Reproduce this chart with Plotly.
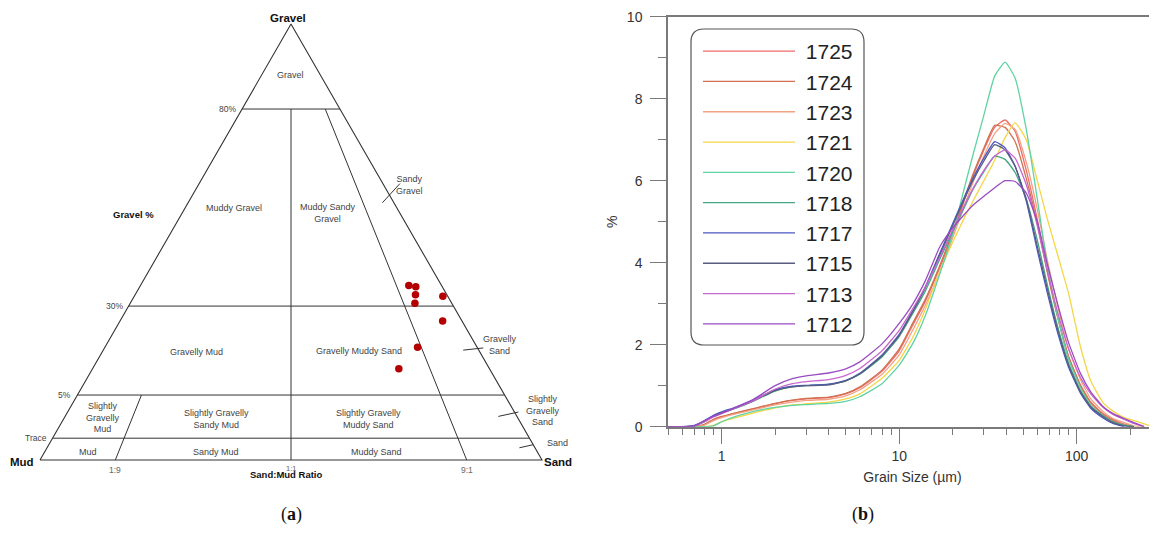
import numpy as np
import plotly.graph_objects as go

# ---------------- Panel (a): Folk gravel-sand-mud ternary ----------------
sample_gravel = [35.2, 34.9, 32.9, 30.7, 32.5, 25.8, 18.4, 12.4]   # gravel %
sample_sand = [60.1, 61.3, 62.6, 64.0, 66.8, 71.4, 72.5, 71.0]     # sand %
# mud % = 100 - gravel - sand

# Folk (1954) class boundaries as drawn on the (non-linear) Gradistat triangle
gravel_pct_knots = [0.0, 0.01, 5.0, 30.0, 80.0, 100.0]
gravel_h_knots = [0.0, 0.05, 0.149, 0.353, 0.805, 1.0]
sandfrac_knots = [0.0, 0.1, 0.5, 0.9, 1.0]
sandfrac_pos = [0.0, 0.15, 0.5, 0.85, 1.0]
gravel_lines = [80.0, 30.0, 5.0, 0.01]
gravel_line_labels = ["80%", "30%", "5%", "Trace"]
ratio_labels = ["1:9", "1:1", "9:1"]
ratio_fracs = [0.1, 0.5, 0.9]

# ---------------- Panel (b): grain size distributions ----------------
grain_um = [0.5, 0.6, 0.7, 0.8, 0.9, 1.0, 1.2, 1.5, 2.0, 2.5, 3.0, 4.0, 5.0, 6.0, 8.0,
            10, 12, 14, 17, 20, 23, 26, 30, 34.5, 39.5, 45, 52, 60, 68, 78, 90,
            105, 120, 140, 160, 185, 210, 240, 270]
N = None
s1725 = [0, 0, 0, 0.05, 0.17, 0.24, 0.33, 0.43, 0.56, 0.64, 0.68, 0.71, 0.80, 0.95, 1.35,
         1.85, 2.50, 3.05, 3.90, 4.70, 5.45, 6.10, 6.75, 7.30, 7.48, 7.20, 6.25, 5.05, 3.85, 2.70, 1.72,
         1.02, 0.60, 0.33, 0.18, 0.06, 0, N, N]
s1724 = [0, 0, 0, 0.06, 0.18, 0.25, 0.34, 0.44, 0.57, 0.65, 0.69, 0.72, 0.81, 0.97, 1.38,
         1.90, 2.55, 3.10, 3.95, 4.75, 5.50, 6.15, 6.80, 7.35, 7.30, 6.95, 6.05, 4.95, 3.80, 2.68, 1.70,
         1.00, 0.58, 0.30, 0.15, 0.04, 0, N, N]
s1723 = [0, 0, 0, 0.04, 0.15, 0.22, 0.31, 0.41, 0.53, 0.60, 0.64, 0.67, 0.75, 0.90, 1.28,
         1.75, 2.38, 2.95, 3.80, 4.60, 5.32, 5.95, 6.60, 7.15, 7.40, 7.25, 6.45, 5.30, 4.10, 2.95, 1.90,
         1.15, 0.68, 0.38, 0.20, 0.10, 0.02, 0, N]
s1721 = [0, 0, 0, 0, 0.03, 0.12, 0.22, 0.33, 0.46, 0.53, 0.56, 0.60, 0.68, 0.80, 1.18,
         1.62, 2.20, 2.85, 3.80, 4.50, 5.05, 5.50, 6.00, 6.50, 7.05, 7.41, 7.00, 6.00, 5.10, 4.20, 3.25,
         1.95, 1.12, 0.60, 0.38, 0.22, 0.15, 0.07, 0]
s1720 = [0, 0, 0, 0, 0.02, 0.12, 0.25, 0.37, 0.47, 0.52, 0.54, 0.57, 0.62, 0.73, 1.05,
         1.50, 2.05, 2.70, 3.75, 4.70, 5.73, 6.62, 7.60, 8.55, 8.89, 8.50, 7.25, 5.55, 4.00, 2.70, 1.65,
         0.95, 0.52, 0.28, 0.12, 0.04, 0, N, N]
s1718 = [0, 0, 0.02, 0.12, 0.25, 0.33, 0.45, 0.62, 0.87, 0.97, 1.00, 1.03, 1.12, 1.28, 1.70,
         2.20, 2.78, 3.30, 4.10, 4.75, 5.30, 5.78, 6.22, 6.60, 6.52, 6.20, 5.55, 4.55, 3.50, 2.45, 1.55,
         0.88, 0.50, 0.27, 0.12, 0.03, 0, N, N]
s1717 = [0, 0, 0.03, 0.15, 0.28, 0.36, 0.48, 0.65, 0.90, 0.99, 1.01, 1.04, 1.13, 1.30, 1.75,
         2.25, 2.85, 3.40, 4.25, 4.95, 5.55, 6.05, 6.55, 6.95, 6.80, 6.35, 5.50, 4.30, 3.30, 2.30, 1.45,
         0.82, 0.45, 0.22, 0.08, 0, N, N, N]
s1715 = [0, 0, 0.02, 0.13, 0.26, 0.34, 0.46, 0.63, 0.88, 0.97, 1.00, 1.02, 1.12, 1.29, 1.73,
         2.23, 2.83, 3.38, 4.20, 4.90, 5.50, 6.00, 6.48, 6.88, 6.75, 6.35, 5.55, 4.40, 3.40, 2.38, 1.50,
         0.85, 0.48, 0.25, 0.10, 0.02, 0, N, N]
s1713 = [0, 0, 0.01, 0.12, 0.24, 0.32, 0.46, 0.63, 0.92, 1.05, 1.10, 1.15, 1.25, 1.42, 1.85,
         2.35, 2.90, 3.40, 4.15, 4.80, 5.35, 5.80, 6.25, 6.60, 6.75, 6.55, 5.90, 4.90, 3.85, 2.80, 1.90,
         1.20, 0.80, 0.48, 0.30, 0.18, 0.08, 0, N]
s1712 = [0, 0, 0.02, 0.15, 0.26, 0.33, 0.47, 0.66, 1.00, 1.17, 1.24, 1.31, 1.41, 1.58, 2.02,
         2.52, 3.01, 3.55, 4.40, 4.85, 5.15, 5.40, 5.62, 5.83, 6.00, 5.98, 5.70, 5.00, 4.00, 3.00, 2.05,
         1.30, 0.85, 0.50, 0.32, 0.20, 0.10, 0, N]

sample_names = ["1725", "1724", "1723", "1721", "1720", "1718", "1717", "1715", "1713", "1712"]
sample_series = [s1725, s1724, s1723, s1721, s1720, s1718, s1717, s1715, s1713, s1712]
sample_colors = ["#ee6b6b", "#d0714f", "#f2a283", "#f5d548", "#5fd3a2",
                 "#46a886", "#4d57c4", "#585c80", "#c767cf", "#9a4cc2"]

x_major = [1, 10, 100]
x_minor = [0.5, 0.6, 0.7, 0.8, 0.9, 2, 3, 4, 5, 6, 7, 8, 9,
           20, 30, 40, 50, 60, 70, 80, 90, 200]

# The page body has an 8px margin: size the figure so it fills the 1157x537 window
OFF = 8
W, H = 1157 - OFF, 537 - OFF
FONT = "Liberation Sans, Arial, sans-serif"
LINE = "#333333"


def px(p):          # window x pixel -> paper fraction
    return (p - OFF) / W


def py(p):          # window y pixel -> paper fraction
    return 1 - (p - OFF) / H


fig = go.Figure()


def h_of(g):
    return float(np.interp(g, gravel_pct_knots, gravel_h_knots))


def r_of(f):
    return float(np.interp(f, sandfrac_knots, sandfrac_pos))


def to_xy(h, r):
    return r * (1 - h) + 0.5 * h, h


# Triangle outline and class boundaries
fig.add_trace(go.Scatter(x=[0, 1, 0.5, 0], y=[0, 0, 1, 0], mode="lines",
                         line=dict(color=LINE, width=1.1), showlegend=False, hoverinfo="skip"))
for g in gravel_lines:
    h = h_of(g)
    fig.add_trace(go.Scatter(x=[h / 2, 1 - h / 2], y=[h, h], mode="lines",
                             line=dict(color=LINE, width=1), showlegend=False, hoverinfo="skip"))
h80, h5 = h_of(80), h_of(5)
for frac, top in [(0.5, h80), (0.9, h80), (0.1, h5)]:
    r = r_of(frac)
    xa, ya = to_xy(0, r)
    xb, yb = to_xy(top, r)
    fig.add_trace(go.Scatter(x=[xa, xb], y=[ya, yb], mode="lines",
                             line=dict(color=LINE, width=1), showlegend=False, hoverinfo="skip"))

# Sample points
pts_x, pts_y = [], []
for g, s in zip(sample_gravel, sample_sand):
    mud = 100 - g - s
    xx, yy = to_xy(h_of(g), r_of(s / (s + mud)))
    pts_x.append(xx)
    pts_y.append(yy)
fig.add_trace(go.Scatter(x=pts_x, y=pts_y, mode="markers", cliponaxis=False,
                         marker=dict(color="#b40000", size=7.5, line=dict(width=0)),
                         showlegend=False, hoverinfo="skip"))

# Leader lines for the narrow right-hand classes
leaders = [((0.682, 0.590), (0.717, 0.634)),
           ((0.843, 0.252), (0.883, 0.257)),
           ((0.913, 0.100), (0.953, 0.110)),
           ((0.955, 0.028), (0.982, 0.035))]
for (x0, y0), (x1, y1) in leaders:
    fig.add_shape(type="line", x0=x0, y0=y0, x1=x1, y1=y1, xref="x", yref="y",
                  line=dict(color=LINE, width=1))

region_labels = [
    ("Gravel", 0.498, 0.883), ("Muddy Gravel", 0.386, 0.578),
    ("Muddy Sandy<br>Gravel", 0.574, 0.567), ("Sandy<br>Gravel", 0.736, 0.631),
    ("Gravelly Mud", 0.311, 0.248), ("Gravelly Muddy Sand", 0.635, 0.250),
    ("Gravelly<br>Sand", 0.916, 0.264), ("Slightly<br>Gravelly<br>Mud", 0.125, 0.097),
    ("Slightly Gravelly<br>Sandy Mud", 0.351, 0.094), ("Slightly Gravelly<br>Muddy Sand", 0.655, 0.095),
    ("Slightly<br>Gravelly<br>Sand", 1.001, 0.113), ("Mud", 0.095, 0.019),
    ("Sandy Mud", 0.351, 0.019), ("Muddy Sand", 0.671, 0.019), ("Sand", 1.031, 0.038),
]
for txt, xx, yy in region_labels:
    fig.add_annotation(x=xx, y=yy, xref="x", yref="y", text=txt, showarrow=False,
                       font=dict(family=FONT, size=9, color="#444444"), align="center")

for lab, g in zip(gravel_line_labels, gravel_lines):
    h = h_of(g)
    fig.add_annotation(x=h / 2 - 0.008, y=h, xref="x", yref="y", text=lab, showarrow=False,
                       xanchor="right", font=dict(family=FONT, size=8.5, color="#444444"))
for lab, f in zip(ratio_labels, ratio_fracs):
    fig.add_annotation(x=r_of(f), y=-0.019 if lab == "1:1" else -0.024, xref="x", yref="y",
                       text=lab, showarrow=False,
                       font=dict(family=FONT, size=7.5 if lab == "1:1" else 8.5, color="#666666"))

bold_labels = [("Gravel", 0.494, 1.014, 11.5), ("Mud", -0.035, -0.005, 11.5),
               ("Sand", 1.032, -0.004, 11.5), ("Gravel %", 0.187, 0.562, 9.5),
               ("Sand:Mud Ratio", 0.490, -0.034, 9.5)]
for txt, xx, yy, fs in bold_labels:
    fig.add_annotation(x=xx, y=yy, xref="x", yref="y", text="<b>%s</b>" % txt, showarrow=False,
                       font=dict(family=FONT, size=fs, color="#111111"))

# ---------------- Panel (b) traces ----------------
for name, vals, col in zip(sample_names, sample_series, sample_colors):
    fig.add_trace(go.Scatter(x=grain_um, y=vals, mode="lines", name="\u00a0" + name,
                             line=dict(color=col, width=1.3, shape="spline", smoothing=0.45),
                             xaxis="x2", yaxis="y2", legendgroup=name))

# rounded legend frame
x0p, x1p, y0p, y1p = px(691), px(864), py(345), py(29)
rx, ry = 13 / W, 13 / H
path = (f"M{x0p + rx},{y1p} L{x1p - rx},{y1p} Q{x1p},{y1p} {x1p},{y1p - ry} "
        f"L{x1p},{y0p + ry} Q{x1p},{y0p} {x1p - rx},{y0p} L{x0p + rx},{y0p} "
        f"Q{x0p},{y0p} {x0p},{y0p + ry} L{x0p},{y1p - ry} Q{x0p},{y1p} {x0p + rx},{y1p} Z")
fig.add_shape(type="path", path=path, xref="paper", yref="paper",
              line=dict(color="#555555", width=1.2), fillcolor="rgba(0,0,0,0)")

for lab, cx in [("(<b>a</b>)", 291), ("(<b>b</b>)", 863)]:
    fig.add_annotation(x=px(cx), y=py(514), xref="paper", yref="paper",
                       xanchor="center", yanchor="middle",
                       text=lab, showarrow=False,
                       font=dict(family="Liberation Serif, DejaVu Serif, serif", size=18,
                                 color="#111111"))

# ternary frame: Mud vertex at window (40, 460), 502 px base, 436 px height
tx0, tyb = 40 - OFF, 460 - OFF
AX = "#7a7a7a"
fig.update_layout(
    width=W, height=H,
    margin=dict(l=0, r=0, t=0, b=0, autoexpand=False),
    paper_bgcolor="white", plot_bgcolor="white",
    font=dict(family=FONT, color="#333333"),
    xaxis=dict(domain=[0, 0.5], range=[-tx0 / 502, (0.5 * W - tx0) / 502], visible=False,
               automargin=False),
    yaxis=dict(domain=[0, 1], range=[-(H - tyb) / 436, tyb / 436], visible=False,
               automargin=False),
    xaxis2=dict(domain=[px(668), 1.0], type="log", automargin=False,
                range=[np.log10(0.5) - 0.0015, 2.4524], anchor="y2",
                showline=True, linecolor=AX, linewidth=1.5, mirror=True,
                showgrid=False, zeroline=False,
                tickmode="array", tickvals=x_major, ticktext=[str(v) for v in x_major],
                ticks="outside", ticklen=16, tickcolor=AX, tickwidth=1.2,
                tickfont=dict(family=FONT, size=14, color="#333333"),
                minor=dict(tickmode="array", tickvals=x_minor, ticks="outside",
                           ticklen=7, tickcolor=AX, tickwidth=1.2, showgrid=False),
                title=dict(text="Grain Size (µm)", font=dict(family=FONT, size=14, color="#333333"),
                           standoff=9)),
    yaxis2=dict(domain=[py(426.7), py(16.7)], range=[0, 10], anchor="x2",
                automargin=False,
                showline=True, linecolor=AX, linewidth=1.5,
                showgrid=False, zeroline=False,
                tickmode="array", tickvals=[0, 2, 4, 6, 8, 10],
                ticks="outside", ticklen=16, tickcolor=AX, tickwidth=1.2,
                ticklabelstandoff=5,
                tickfont=dict(family=FONT, size=14, color="#333333"),
                minor=dict(tickmode="array", tickvals=[1, 3, 5, 7, 9], ticks="outside",
                           ticklen=8, tickcolor=AX, tickwidth=1.2, showgrid=False),
                title=dict(text="%", font=dict(family=FONT, size=14, color="#333333"),
                           standoff=6)),
    legend=dict(x=px(698), y=py(31), xanchor="left", yanchor="top",
                bgcolor="rgba(0,0,0,0)", borderwidth=0,
                font=dict(family=FONT, size=21, color="#222222"),
                itemwidth=92, tracegroupgap=0, itemclick=False, itemdoubleclick=False),
    showlegend=True,
)

fig.write_html("out.html")
